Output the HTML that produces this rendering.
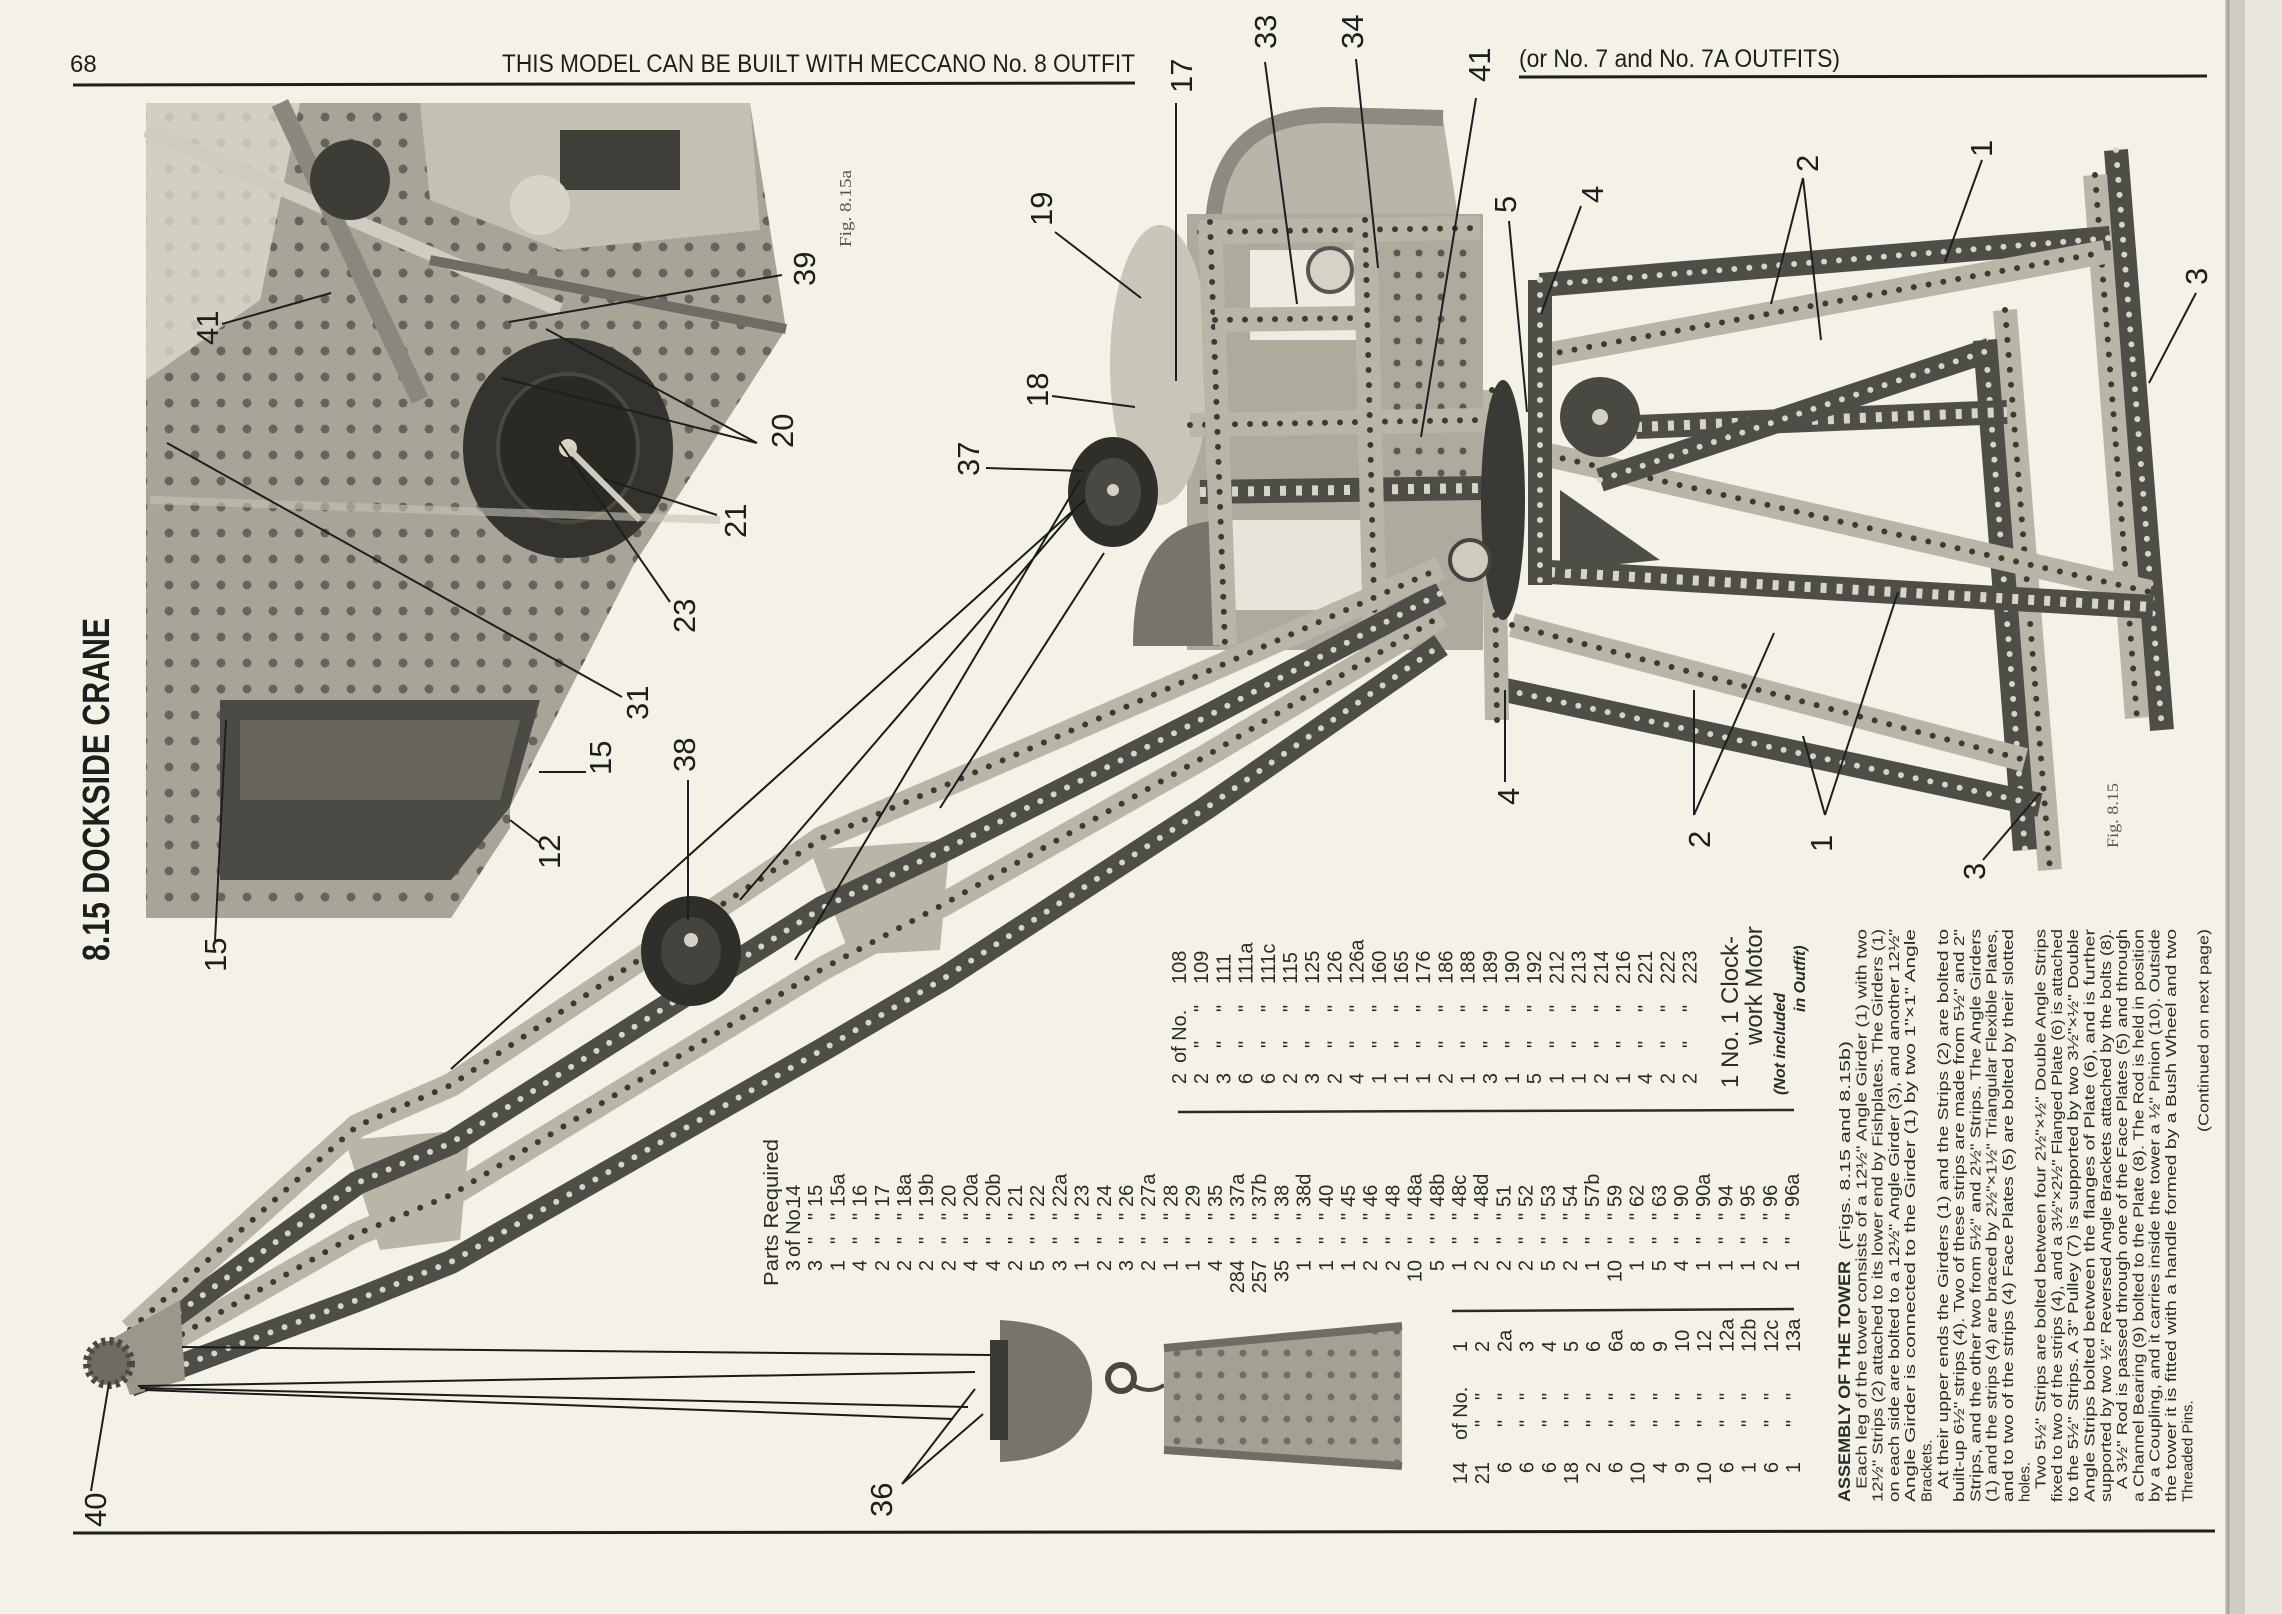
<!DOCTYPE html>
<html><head><meta charset="utf-8"><style>
html,body{margin:0;padding:0;background:#f4f1e7;}
svg{display:block}
.t{font-family:"Liberation Sans",sans-serif;fill:#1e1e1e}
.p{font-family:"Liberation Sans",sans-serif;font-size:20px;fill:#2a2a2a}
.e{text-anchor:end}
.a{font-family:"Liberation Sans",sans-serif;font-size:15px;fill:#2a2a2a}
.lb{font-family:"Liberation Sans",sans-serif;font-size:31px;fill:#1e1e1e}
.ld{stroke:#1e1e1e;stroke-width:2;fill:none}
.gl{fill:none;stroke:#b9b5a7;stroke-width:24;stroke-linejoin:round}
.gd{fill:none;stroke:#4f4d47;stroke-width:24;stroke-linejoin:round}
.hl{fill:none;stroke:#3c3a35;stroke-width:6;stroke-dasharray:0 15;stroke-linecap:round}
.hd{fill:none;stroke:#d8d4c6;stroke-width:6;stroke-dasharray:0 15;stroke-linecap:round}
.cb{stroke:#1a1a1a;stroke-width:2;fill:none}
</style></head><body>
<svg width="2282" height="1614" viewBox="0 0 2282 1614" xmlns="http://www.w3.org/2000/svg">
<defs>
<pattern id="perf" width="26" height="26" patternUnits="userSpaceOnUse"><circle cx="13" cy="13" r="4.5" fill="#4a4842"/></pattern>
<pattern id="perf2" width="22" height="22" patternUnits="userSpaceOnUse"><circle cx="11" cy="11" r="3.5" fill="#5a5850"/></pattern>
</defs>
<rect width="2282" height="1614" fill="#f4f1e7"/>
<rect x="2225" y="0" width="57" height="1614" fill="#e9e7e0"/>
<rect x="2225" y="0" width="20" height="1614" fill="#cfccc2"/>
<line x1="2228" y1="0" x2="2228" y2="1614" stroke="#a9a69c" stroke-width="3"/>

<text class="t" x="70" y="72" font-size="24">68</text>
<text class="t" x="502" y="72" font-size="25" textLength="633" lengthAdjust="spacingAndGlyphs">THIS MODEL CAN BE BUILT WITH MECCANO No. 8 OUTFIT</text>
<text class="t" x="1519" y="67" font-size="25" textLength="321" lengthAdjust="spacingAndGlyphs">(or No. 7 and No. 7A OUTFITS)</text>
<line x1="73" y1="85" x2="1135" y2="83" stroke="#1e1e1e" stroke-width="3"/>
<line x1="1519" y1="77" x2="2207" y2="76" stroke="#1e1e1e" stroke-width="3"/>
<line x1="73" y1="1533" x2="2215" y2="1531" stroke="#1e1e1e" stroke-width="3"/>

<!-- Fig 8.15a photo -->
<polygon points="146,103 750,103 786,329 633,566 510,807 510,828 451,918 146,918" fill="#a8a598"/>
<polygon points="146,103 750,103 786,329 633,566 510,807 510,828 451,918 146,918" fill="url(#perf)" opacity="0.7"/>
<polygon points="146,103 300,103 260,300 146,380" fill="#ddd9cc" opacity="0.8"/>
<polygon points="420,103 750,103 760,230 560,250 430,200" fill="#c4c0b2"/>
<rect x="560" y="130" width="120" height="60" fill="#3f3d38"/>
<polygon points="220,700 540,700 510,807 451,880 220,880" fill="#4c4a44"/>
<polygon points="240,720 520,720 500,800 240,800" fill="#67645c"/>
<ellipse cx="568" cy="448" rx="105" ry="110" fill="#35332f"/>
<ellipse cx="568" cy="448" rx="70" ry="74" fill="#2a2926" stroke="#4a4843" stroke-width="4"/>
<circle cx="568" cy="448" r="9" fill="#d9d5c8"/>
<line x1="568" y1="448" x2="640" y2="520" stroke="#cfcbbd" stroke-width="6"/>
<line x1="146" y1="130" x2="560" y2="310" stroke="#d0ccbf" stroke-width="14"/>
<line x1="280" y1="103" x2="420" y2="400" stroke="#8a877c" stroke-width="18"/>
<line x1="430" y1="260" x2="786" y2="329" stroke="#6f6c63" stroke-width="10"/>
<line x1="150" y1="500" x2="720" y2="520" stroke="#c7c3b5" stroke-width="8" opacity="0.6"/>
<circle cx="350" cy="180" r="40" fill="#3e3c37"/>
<circle cx="540" cy="205" r="30" fill="#d8d4c6"/>

<text class="t" transform="translate(109,961) rotate(-90)" font-size="38" font-weight="bold" textLength="343" lengthAdjust="spacingAndGlyphs">8.15  DOCKSIDE CRANE</text>
<text transform="translate(851,247) rotate(-90)" font-family="Liberation Serif,serif" font-size="17" fill="#555" textLength="77" lengthAdjust="spacingAndGlyphs">Fig. 8.15a</text>
<text transform="translate(2118,848) rotate(-90)" font-family="Liberation Serif,serif" font-size="16" fill="#555" textLength="65" lengthAdjust="spacingAndGlyphs">Fig. 8.15</text>

<!-- tower -->
<g>
<path class="gd" d="M2116,150 L2162,730"/><path class="hd" d="M2116,150 L2162,730"/>
<path class="gl" d="M2095,175 L2137,718"/><path class="hl" d="M2095,175 L2137,718"/>
<path class="gl" d="M2005,310 L2050,870"/><path class="hl" d="M2005,310 L2050,870"/>
<path class="gd" d="M1985,340 L2025,850"/><path class="hd" d="M1985,340 L2025,850"/>
<path class="gd" d="M1540,285 L2110,238"/><path class="hd" d="M1540,285 L2110,238"/>
<path class="gl" d="M1545,355 L2105,252"/><path class="hl" d="M1545,355 L2105,252"/>
<path class="gd" d="M1636,427 L2007,412"/><path class="hd" d="M1636,427 L2007,412" style="stroke-dasharray:6 10;stroke-linecap:butt;stroke-width:10"/>
<path class="gl" d="M1548,455 L2150,592"/><path class="hl" d="M1548,455 L2150,592"/>
<path class="gd" d="M1600,480 L1990,350"/><path class="hd" d="M1600,480 L1990,350"/>
<path class="gd" d="M1549,572 L2153,607"/><path class="hd" d="M1549,572 L2153,607" style="stroke-dasharray:6 10;stroke-linecap:butt;stroke-width:10"/>
<path class="gl" d="M1512,625 L2025,760"/><path class="hl" d="M1512,625 L2025,760"/>
<path class="gd" d="M1505,690 L2040,805"/><path class="hd" d="M1505,690 L2040,805"/>
<path class="gd" d="M1540,280 L1540,585"/><path class="hd" d="M1540,280 L1540,585"/>
<path class="gl" d="M1492,390 L1497,720"/><path class="hl" d="M1492,390 L1497,720"/>
<polygon points="1560,490 1660,560 1560,570" fill="#4f4d47"/>
<circle cx="1600" cy="417" r="40" fill="#4a4842"/>
<circle cx="1600" cy="417" r="8" fill="#d4d0c3"/>
</g>

<!-- cab -->
<g>
<path d="M1213,231 Q1215,115 1330,115 L1443,118 L1460,231 Z" fill="#b9b5a8"/>
<path d="M1213,231 Q1215,115 1330,115 L1443,118" fill="none" stroke="#8d8a80" stroke-width="16"/>
<rect x="1187" y="214" width="296" height="436" fill="#aeaa9d"/>
<rect x="1360" y="230" width="120" height="260" fill="url(#perf2)"/>
<ellipse cx="1160" cy="365" rx="50" ry="140" fill="#c9c5b8"/>
<path d="M1133,646 Q1133,521 1220,521 L1220,646 Z" fill="#77746b"/>
<rect x="1250" y="250" width="110" height="90" fill="#eeebe2"/>
<rect x="1230" y="520" width="150" height="90" fill="#e7e4da"/>
<path class="gl" d="M1190,425 L1483,420"/><path class="hl" d="M1190,425 L1483,420"/>
<path class="gd" d="M1200,492 L1483,488"/><path class="hd" d="M1200,492 L1483,488" style="stroke-dasharray:6 10;stroke-linecap:butt;stroke-width:10"/>
<path class="gl" d="M1200,232 L1480,228"/><path class="hl" d="M1200,232 L1480,228"/>
<path class="gl" d="M1210,222 L1225,645"/><path class="hl" d="M1210,222 L1225,645"/>
<path class="gl" d="M1365,220 L1375,640"/><path class="hl" d="M1365,220 L1375,640"/>
<path class="gl" d="M1215,320 L1360,318"/><path class="hl" d="M1215,320 L1360,318"/>
<circle cx="1330" cy="270" r="22" fill="#d6d2c5" stroke="#555" stroke-width="4"/>
<ellipse cx="1503" cy="500" rx="22" ry="120" fill="#3a3935"/>
<circle cx="1470" cy="560" r="20" fill="#cfcbbd" stroke="#444" stroke-width="4"/>
</g>

<!-- jib -->
<g>
<polygon points="345,1140 470,1130 460,1240 380,1250" fill="#b9b5a7"/>
<polygon points="810,850 950,840 940,950 850,955" fill="#b9b5a7"/>
<path class="gd" d="M130,1385 L357,1300 L451,1262 L822,1050 L946,977 L1206,808 L1441,645"/>
<path class="hd" d="M130,1385 L357,1300 L451,1262 L822,1050 L946,977 L1206,808 L1441,645"/>
<path class="gl" d="M130,1364 L357,1234 L451,1195 L822,969 L946,903 L1206,756 L1441,616"/>
<path class="hl" d="M130,1364 L357,1234 L451,1195 L822,969 L946,903 L1206,756 L1441,616"/>
<path class="gd" d="M130,1348 L357,1183 L451,1143 L822,908 L946,849 L1206,717 L1441,593"/>
<path class="hd" d="M130,1348 L357,1183 L451,1143 L822,908 L946,849 L1206,717 L1441,593"/>
<path class="gl" d="M130,1330 L357,1126 L451,1085 L822,838 L946,785 L1206,672 L1441,568"/>
<path class="hl" d="M130,1330 L357,1126 L451,1085 L822,838 L946,785 L1206,672 L1441,568"/>
<polygon points="110,1340 180,1300 185,1380 130,1395" fill="#9b978a"/>
<circle cx="109" cy="1363" r="22" fill="#6e6b62" stroke="#4a4842" stroke-width="8" stroke-dasharray="4 4"/>
</g>

<ellipse cx="691" cy="951" rx="50" ry="55" fill="#2f2e2b"/>
<ellipse cx="691" cy="951" rx="30" ry="34" fill="#454340"/>
<circle cx="691" cy="940" r="7" fill="#d5d1c4"/>
<ellipse cx="1113" cy="492" rx="45" ry="55" fill="#2f2e2b"/>
<ellipse cx="1113" cy="492" rx="28" ry="34" fill="#4a4843"/>
<circle cx="1113" cy="490" r="6" fill="#d5d1c4"/>

<line class="cb" x1="182" y1="1347" x2="990" y2="1355"/>
<line class="cb" x1="138" y1="1386" x2="975" y2="1372"/>
<line class="cb" x1="140" y1="1388" x2="968" y2="1407"/>
<line class="cb" x1="145" y1="1390" x2="953" y2="1419"/>
<line class="cb" x1="451" y1="1069" x2="1085" y2="500"/>
<line class="cb" x1="795" y1="960" x2="1080" y2="480"/>
<line class="cb" x1="740" y1="900" x2="1075" y2="510"/>
<line class="cb" x1="940" y1="808" x2="1104" y2="553"/>

<path d="M1000,1320 Q1095,1325 1092,1390 Q1090,1458 1000,1462 Z" fill="#77746a"/>
<rect x="990" y="1340" width="18" height="100" fill="#3c3a36"/>
<circle cx="1121" cy="1378" r="13" fill="none" stroke="#4a4843" stroke-width="6"/>
<path d="M1133,1385 Q1150,1395 1164,1385" fill="none" stroke="#4a4843" stroke-width="4"/>
<polygon points="1164,1346 1402,1323 1402,1468 1164,1452" fill="#a4a194"/>
<polygon points="1164,1346 1402,1323 1402,1468 1164,1452" fill="url(#perf2)" opacity="0.7"/>
<line x1="1164" y1="1348" x2="1402" y2="1326" stroke="#6f6c63" stroke-width="8"/>
<line x1="1164" y1="1450" x2="1402" y2="1466" stroke="#6f6c63" stroke-width="8"/>

<g class="lb">
<text transform="translate(218,345) rotate(-90)">41</text>
<text transform="translate(815,286) rotate(-90)">39</text>
<text transform="translate(793,448) rotate(-90)">20</text>
<text transform="translate(746,538) rotate(-90)">21</text>
<text transform="translate(695,633) rotate(-90)">23</text>
<text transform="translate(648,720) rotate(-90)">31</text>
<text transform="translate(611,775) rotate(-90)">15</text>
<text transform="translate(695,772) rotate(-90)">38</text>
<text transform="translate(560,869) rotate(-90)">12</text>
<text transform="translate(226,972) rotate(-90)">15</text>
<text transform="translate(1052,226) rotate(-90)">19</text>
<text transform="translate(1048,407) rotate(-90)">18</text>
<text transform="translate(979,476) rotate(-90)">37</text>
<text transform="translate(106,1527) rotate(-90)">40</text>
<text transform="translate(892,1517) rotate(-90)">36</text>
<text transform="translate(1192,93) rotate(-90)">17</text>
<text transform="translate(1276,49) rotate(-90)">33</text>
<text transform="translate(1363,49) rotate(-90)">34</text>
<text transform="translate(1490,82) rotate(-90)">41</text>
<text transform="translate(1516,213) rotate(-90)">5</text>
<text transform="translate(1603,203) rotate(-90)">4</text>
<text transform="translate(1818,172) rotate(-90)">2</text>
<text transform="translate(1992,157) rotate(-90)">1</text>
<text transform="translate(2207,285) rotate(-90)">3</text>
<text transform="translate(1519,805) rotate(-90)">4</text>
<text transform="translate(1710,848) rotate(-90)">2</text>
<text transform="translate(1832,852) rotate(-90)">1</text>
<text transform="translate(1985,880) rotate(-90)">3</text>
</g>
<g class="ld">
<path d="M222,324 L331,293"/>
<path d="M782,275 L509,322"/>
<path d="M757,443 L546,329 M757,443 L502,378"/>
<path d="M717,515 L604,479"/>
<path d="M670,602 L560,443"/>
<path d="M622,697 L167,443"/>
<path d="M586,772 L539,772"/>
<path d="M688,780 L688,920"/>
<path d="M540,843 L510,820"/>
<path d="M215,941 L226,720"/>
<path d="M1055,232 L1141,298"/>
<path d="M1052,396 L1135,407"/>
<path d="M986,468 L1084,471"/>
<path d="M91,1491 L109,1383"/>
<path d="M902,1484 L975,1389 M902,1484 L983,1414"/>
<path d="M1176,103 L1176,381"/>
<path d="M1265,62 L1297,304"/>
<path d="M1356,59 L1378,268"/>
<path d="M1476,98 L1421,437"/>
<path d="M1509,221 L1527,412"/>
<path d="M1581,206 L1541,314"/>
<path d="M1803,178 L1771,304 M1803,178 L1821,340"/>
<path d="M1982,160 L1945,262"/>
<path d="M2196,293 L2149,383"/>
<path d="M1505,782 L1505,690"/>
<path d="M1694,815 L1694,690 M1694,815 L1774,633"/>
<path d="M1825,815 L1803,736 M1825,815 L1898,592"/>
<path d="M1983,860 L2040,793"/>
</g>

<line x1="1178" y1="1112" x2="1794" y2="1110" stroke="#2a2a2a" stroke-width="2.5"/>
<line x1="1452" y1="1311" x2="1794" y2="1309" stroke="#2a2a2a" stroke-width="2.5"/>

<text class="p" transform="translate(778,0) rotate(-90)" x="-1286" textLength="147" lengthAdjust="spacingAndGlyphs">Parts Required</text>
<g class="p">
<g transform="translate(800,0) rotate(-90)"><text class="e" x="-1260">3</text><text x="-1257">of No.</text><text x="-1207">14</text></g>
<g transform="translate(822.2,0) rotate(-90)"><text class="e" x="-1260">3</text><text x="-1244">"</text><text x="-1220">"</text><text x="-1207">15</text></g>
<g transform="translate(844.4,0) rotate(-90)"><text class="e" x="-1260">1</text><text x="-1244">"</text><text x="-1220">"</text><text x="-1207">15a</text></g>
<g transform="translate(866.6,0) rotate(-90)"><text class="e" x="-1260">4</text><text x="-1244">"</text><text x="-1220">"</text><text x="-1207">16</text></g>
<g transform="translate(888.8,0) rotate(-90)"><text class="e" x="-1260">2</text><text x="-1244">"</text><text x="-1220">"</text><text x="-1207">17</text></g>
<g transform="translate(911,0) rotate(-90)"><text class="e" x="-1260">2</text><text x="-1244">"</text><text x="-1220">"</text><text x="-1207">18a</text></g>
<g transform="translate(933.2,0) rotate(-90)"><text class="e" x="-1260">2</text><text x="-1244">"</text><text x="-1220">"</text><text x="-1207">19b</text></g>
<g transform="translate(955.4,0) rotate(-90)"><text class="e" x="-1260">2</text><text x="-1244">"</text><text x="-1220">"</text><text x="-1207">20</text></g>
<g transform="translate(977.6,0) rotate(-90)"><text class="e" x="-1260">4</text><text x="-1244">"</text><text x="-1220">"</text><text x="-1207">20a</text></g>
<g transform="translate(999.8,0) rotate(-90)"><text class="e" x="-1260">4</text><text x="-1244">"</text><text x="-1220">"</text><text x="-1207">20b</text></g>
<g transform="translate(1022,0) rotate(-90)"><text class="e" x="-1260">2</text><text x="-1244">"</text><text x="-1220">"</text><text x="-1207">21</text></g>
<g transform="translate(1044.2,0) rotate(-90)"><text class="e" x="-1260">5</text><text x="-1244">"</text><text x="-1220">"</text><text x="-1207">22</text></g>
<g transform="translate(1066.4,0) rotate(-90)"><text class="e" x="-1260">3</text><text x="-1244">"</text><text x="-1220">"</text><text x="-1207">22a</text></g>
<g transform="translate(1088.6,0) rotate(-90)"><text class="e" x="-1260">1</text><text x="-1244">"</text><text x="-1220">"</text><text x="-1207">23</text></g>
<g transform="translate(1110.8,0) rotate(-90)"><text class="e" x="-1260">2</text><text x="-1244">"</text><text x="-1220">"</text><text x="-1207">24</text></g>
<g transform="translate(1133,0) rotate(-90)"><text class="e" x="-1260">3</text><text x="-1244">"</text><text x="-1220">"</text><text x="-1207">26</text></g>
<g transform="translate(1155.2,0) rotate(-90)"><text class="e" x="-1260">2</text><text x="-1244">"</text><text x="-1220">"</text><text x="-1207">27a</text></g>
<g transform="translate(1177.4,0) rotate(-90)"><text class="e" x="-1260">1</text><text x="-1244">"</text><text x="-1220">"</text><text x="-1207">28</text></g>
<g transform="translate(1199.6,0) rotate(-90)"><text class="e" x="-1260">1</text><text x="-1244">"</text><text x="-1220">"</text><text x="-1207">29</text></g>
<g transform="translate(1221.8,0) rotate(-90)"><text class="e" x="-1260">4</text><text x="-1244">"</text><text x="-1220">"</text><text x="-1207">35</text></g>
<g transform="translate(1244,0) rotate(-90)"><text class="e" x="-1260">284</text><text x="-1244">"</text><text x="-1220">"</text><text x="-1207">37a</text></g>
<g transform="translate(1266.2,0) rotate(-90)"><text class="e" x="-1260">257</text><text x="-1244">"</text><text x="-1220">"</text><text x="-1207">37b</text></g>
<g transform="translate(1288.4,0) rotate(-90)"><text class="e" x="-1260">35</text><text x="-1244">"</text><text x="-1220">"</text><text x="-1207">38</text></g>
<g transform="translate(1310.6,0) rotate(-90)"><text class="e" x="-1260">1</text><text x="-1244">"</text><text x="-1220">"</text><text x="-1207">38d</text></g>
<g transform="translate(1332.8,0) rotate(-90)"><text class="e" x="-1260">1</text><text x="-1244">"</text><text x="-1220">"</text><text x="-1207">40</text></g>
<g transform="translate(1355,0) rotate(-90)"><text class="e" x="-1260">1</text><text x="-1244">"</text><text x="-1220">"</text><text x="-1207">45</text></g>
<g transform="translate(1377.2,0) rotate(-90)"><text class="e" x="-1260">2</text><text x="-1244">"</text><text x="-1220">"</text><text x="-1207">46</text></g>
<g transform="translate(1399.4,0) rotate(-90)"><text class="e" x="-1260">2</text><text x="-1244">"</text><text x="-1220">"</text><text x="-1207">48</text></g>
<g transform="translate(1421.6,0) rotate(-90)"><text class="e" x="-1260">10</text><text x="-1244">"</text><text x="-1220">"</text><text x="-1207">48a</text></g>
<g transform="translate(1443.8,0) rotate(-90)"><text class="e" x="-1260">5</text><text x="-1244">"</text><text x="-1220">"</text><text x="-1207">48b</text></g>
<g transform="translate(1466,0) rotate(-90)"><text class="e" x="-1260">1</text><text x="-1244">"</text><text x="-1220">"</text><text x="-1207">48c</text></g>
<g transform="translate(1488.2,0) rotate(-90)"><text class="e" x="-1260">2</text><text x="-1244">"</text><text x="-1220">"</text><text x="-1207">48d</text></g>
<g transform="translate(1510.4,0) rotate(-90)"><text class="e" x="-1260">2</text><text x="-1244">"</text><text x="-1220">"</text><text x="-1207">51</text></g>
<g transform="translate(1532.6,0) rotate(-90)"><text class="e" x="-1260">2</text><text x="-1244">"</text><text x="-1220">"</text><text x="-1207">52</text></g>
<g transform="translate(1554.8,0) rotate(-90)"><text class="e" x="-1260">5</text><text x="-1244">"</text><text x="-1220">"</text><text x="-1207">53</text></g>
<g transform="translate(1577,0) rotate(-90)"><text class="e" x="-1260">2</text><text x="-1244">"</text><text x="-1220">"</text><text x="-1207">54</text></g>
<g transform="translate(1599.2,0) rotate(-90)"><text class="e" x="-1260">1</text><text x="-1244">"</text><text x="-1220">"</text><text x="-1207">57b</text></g>
<g transform="translate(1621.4,0) rotate(-90)"><text class="e" x="-1260">10</text><text x="-1244">"</text><text x="-1220">"</text><text x="-1207">59</text></g>
<g transform="translate(1643.6,0) rotate(-90)"><text class="e" x="-1260">1</text><text x="-1244">"</text><text x="-1220">"</text><text x="-1207">62</text></g>
<g transform="translate(1665.8,0) rotate(-90)"><text class="e" x="-1260">5</text><text x="-1244">"</text><text x="-1220">"</text><text x="-1207">63</text></g>
<g transform="translate(1688,0) rotate(-90)"><text class="e" x="-1260">4</text><text x="-1244">"</text><text x="-1220">"</text><text x="-1207">90</text></g>
<g transform="translate(1710.2,0) rotate(-90)"><text class="e" x="-1260">1</text><text x="-1244">"</text><text x="-1220">"</text><text x="-1207">90a</text></g>
<g transform="translate(1732.4,0) rotate(-90)"><text class="e" x="-1260">1</text><text x="-1244">"</text><text x="-1220">"</text><text x="-1207">94</text></g>
<g transform="translate(1754.6,0) rotate(-90)"><text class="e" x="-1260">1</text><text x="-1244">"</text><text x="-1220">"</text><text x="-1207">95</text></g>
<g transform="translate(1776.8,0) rotate(-90)"><text class="e" x="-1260">2</text><text x="-1244">"</text><text x="-1220">"</text><text x="-1207">96</text></g>
<g transform="translate(1799,0) rotate(-90)"><text class="e" x="-1260">1</text><text x="-1244">"</text><text x="-1220">"</text><text x="-1207">96a</text></g>
</g>

<g class="p">
<g transform="translate(1186,0) rotate(-90)"><text class="e" x="-1073">2</text><text x="-1063">of No.</text><text x="-984">108</text></g>
<g transform="translate(1208.2,0) rotate(-90)"><text class="e" x="-1073">2</text><text x="-1048">"</text><text x="-1012">"</text><text x="-984">109</text></g>
<g transform="translate(1230.4,0) rotate(-90)"><text class="e" x="-1073">3</text><text x="-1048">"</text><text x="-1012">"</text><text x="-984">111</text></g>
<g transform="translate(1252.6,0) rotate(-90)"><text class="e" x="-1073">6</text><text x="-1048">"</text><text x="-1012">"</text><text x="-984">111a</text></g>
<g transform="translate(1274.8,0) rotate(-90)"><text class="e" x="-1073">6</text><text x="-1048">"</text><text x="-1012">"</text><text x="-984">111c</text></g>
<g transform="translate(1297,0) rotate(-90)"><text class="e" x="-1073">2</text><text x="-1048">"</text><text x="-1012">"</text><text x="-984">115</text></g>
<g transform="translate(1319.2,0) rotate(-90)"><text class="e" x="-1073">3</text><text x="-1048">"</text><text x="-1012">"</text><text x="-984">125</text></g>
<g transform="translate(1341.4,0) rotate(-90)"><text class="e" x="-1073">2</text><text x="-1048">"</text><text x="-1012">"</text><text x="-984">126</text></g>
<g transform="translate(1363.6,0) rotate(-90)"><text class="e" x="-1073">4</text><text x="-1048">"</text><text x="-1012">"</text><text x="-984">126a</text></g>
<g transform="translate(1385.8,0) rotate(-90)"><text class="e" x="-1073">1</text><text x="-1048">"</text><text x="-1012">"</text><text x="-984">160</text></g>
<g transform="translate(1408,0) rotate(-90)"><text class="e" x="-1073">1</text><text x="-1048">"</text><text x="-1012">"</text><text x="-984">165</text></g>
<g transform="translate(1430.2,0) rotate(-90)"><text class="e" x="-1073">1</text><text x="-1048">"</text><text x="-1012">"</text><text x="-984">176</text></g>
<g transform="translate(1452.4,0) rotate(-90)"><text class="e" x="-1073">2</text><text x="-1048">"</text><text x="-1012">"</text><text x="-984">186</text></g>
<g transform="translate(1474.6,0) rotate(-90)"><text class="e" x="-1073">1</text><text x="-1048">"</text><text x="-1012">"</text><text x="-984">188</text></g>
<g transform="translate(1496.8,0) rotate(-90)"><text class="e" x="-1073">3</text><text x="-1048">"</text><text x="-1012">"</text><text x="-984">189</text></g>
<g transform="translate(1519,0) rotate(-90)"><text class="e" x="-1073">1</text><text x="-1048">"</text><text x="-1012">"</text><text x="-984">190</text></g>
<g transform="translate(1541.2,0) rotate(-90)"><text class="e" x="-1073">5</text><text x="-1048">"</text><text x="-1012">"</text><text x="-984">192</text></g>
<g transform="translate(1563.4,0) rotate(-90)"><text class="e" x="-1073">1</text><text x="-1048">"</text><text x="-1012">"</text><text x="-984">212</text></g>
<g transform="translate(1585.6,0) rotate(-90)"><text class="e" x="-1073">1</text><text x="-1048">"</text><text x="-1012">"</text><text x="-984">213</text></g>
<g transform="translate(1607.8,0) rotate(-90)"><text class="e" x="-1073">2</text><text x="-1048">"</text><text x="-1012">"</text><text x="-984">214</text></g>
<g transform="translate(1630,0) rotate(-90)"><text class="e" x="-1073">1</text><text x="-1048">"</text><text x="-1012">"</text><text x="-984">216</text></g>
<g transform="translate(1652.2,0) rotate(-90)"><text class="e" x="-1073">4</text><text x="-1048">"</text><text x="-1012">"</text><text x="-984">221</text></g>
<g transform="translate(1674.4,0) rotate(-90)"><text class="e" x="-1073">2</text><text x="-1048">"</text><text x="-1012">"</text><text x="-984">222</text></g>
<g transform="translate(1696.6,0) rotate(-90)"><text class="e" x="-1073">2</text><text x="-1048">"</text><text x="-1012">"</text><text x="-984">223</text></g>
<text transform="translate(1738,0) rotate(-90)" x="-1088" font-size="24">1 No. 1 Clock-</text>
<text transform="translate(1762,0) rotate(-90)" x="-1045" font-size="24">work Motor</text>
<text transform="translate(1785,0) rotate(-90)" x="-1095" font-size="16" font-style="italic" font-weight="bold">(Not included</text>
<text transform="translate(1805,0) rotate(-90)" x="-1012" font-size="16" font-style="italic" font-weight="bold">in Outfit)</text>
</g>

<g class="p">
<g transform="translate(1467,0) rotate(-90)"><text class="e" x="-1462">14</text><text x="-1440">of No.</text><text x="-1352">1</text></g>
<g transform="translate(1489.2,0) rotate(-90)"><text class="e" x="-1462">21</text><text x="-1427">"</text><text x="-1400">"</text><text x="-1352">2</text></g>
<g transform="translate(1511.4,0) rotate(-90)"><text class="e" x="-1462">6</text><text x="-1427">"</text><text x="-1400">"</text><text x="-1352">2a</text></g>
<g transform="translate(1533.6,0) rotate(-90)"><text class="e" x="-1462">6</text><text x="-1427">"</text><text x="-1400">"</text><text x="-1352">3</text></g>
<g transform="translate(1555.8,0) rotate(-90)"><text class="e" x="-1462">6</text><text x="-1427">"</text><text x="-1400">"</text><text x="-1352">4</text></g>
<g transform="translate(1578,0) rotate(-90)"><text class="e" x="-1462">18</text><text x="-1427">"</text><text x="-1400">"</text><text x="-1352">5</text></g>
<g transform="translate(1600.2,0) rotate(-90)"><text class="e" x="-1462">2</text><text x="-1427">"</text><text x="-1400">"</text><text x="-1352">6</text></g>
<g transform="translate(1622.4,0) rotate(-90)"><text class="e" x="-1462">6</text><text x="-1427">"</text><text x="-1400">"</text><text x="-1352">6a</text></g>
<g transform="translate(1644.6,0) rotate(-90)"><text class="e" x="-1462">10</text><text x="-1427">"</text><text x="-1400">"</text><text x="-1352">8</text></g>
<g transform="translate(1666.8,0) rotate(-90)"><text class="e" x="-1462">4</text><text x="-1427">"</text><text x="-1400">"</text><text x="-1352">9</text></g>
<g transform="translate(1689,0) rotate(-90)"><text class="e" x="-1462">9</text><text x="-1427">"</text><text x="-1400">"</text><text x="-1352">10</text></g>
<g transform="translate(1711.2,0) rotate(-90)"><text class="e" x="-1462">10</text><text x="-1427">"</text><text x="-1400">"</text><text x="-1352">12</text></g>
<g transform="translate(1733.4,0) rotate(-90)"><text class="e" x="-1462">6</text><text x="-1427">"</text><text x="-1400">"</text><text x="-1352">12a</text></g>
<g transform="translate(1755.6,0) rotate(-90)"><text class="e" x="-1462">1</text><text x="-1427">"</text><text x="-1400">"</text><text x="-1352">12b</text></g>
<g transform="translate(1777.8,0) rotate(-90)"><text class="e" x="-1462">6</text><text x="-1427">"</text><text x="-1400">"</text><text x="-1352">12c</text></g>
<g transform="translate(1800,0) rotate(-90)"><text class="e" x="-1462">1</text><text x="-1427">"</text><text x="-1400">"</text><text x="-1352">13a</text></g>
</g>

<g class="a">
<text transform="translate(1850,0) rotate(-90)" x="-1502" font-weight="bold" font-size="17" textLength="241" lengthAdjust="spacingAndGlyphs">ASSEMBLY OF THE TOWER</text>
<text transform="translate(1850,0) rotate(-90)" x="-1250" textLength="209" lengthAdjust="spacingAndGlyphs">(Figs. 8.15 and 8.15b)</text>
<text transform="translate(1866.3,0) rotate(-90)" x="-1489" textLength="560" lengthAdjust="spacingAndGlyphs">Each leg of the tower consists of a 12½" Angle Girder (1) with two</text>
<text transform="translate(1882.6,0) rotate(-90)" x="-1502" textLength="573" lengthAdjust="spacingAndGlyphs">12½" Strips (2) attached to its lower end by Fishplates. The Girders (1)</text>
<text transform="translate(1898.9,0) rotate(-90)" x="-1502" textLength="573" lengthAdjust="spacingAndGlyphs">on each side are bolted to a 12½" Angle Girder (3), and another 12½"</text>
<text transform="translate(1915.2,0) rotate(-90)" x="-1502" textLength="573" lengthAdjust="spacingAndGlyphs">Angle Girder is connected to the Girder (1) by two 1"×1" Angle</text>
<text transform="translate(1931.5,0) rotate(-90)" x="-1502">Brackets.</text>
<text transform="translate(1947.8,0) rotate(-90)" x="-1489" textLength="560" lengthAdjust="spacingAndGlyphs">At their upper ends the Girders (1) and the Strips (2) are bolted to</text>
<text transform="translate(1964.1,0) rotate(-90)" x="-1502" textLength="573" lengthAdjust="spacingAndGlyphs">built-up 6½" strips (4). Two of these strips are made from 5½" and 2"</text>
<text transform="translate(1980.4,0) rotate(-90)" x="-1502" textLength="573" lengthAdjust="spacingAndGlyphs">Strips, and the other two from 5½" and 2½" Strips. The Angle Girders</text>
<text transform="translate(1996.7,0) rotate(-90)" x="-1502" textLength="573" lengthAdjust="spacingAndGlyphs">(1) and the strips (4) are braced by 2½"×1½" Triangular Flexible Plates,</text>
<text transform="translate(2013,0) rotate(-90)" x="-1502" textLength="573" lengthAdjust="spacingAndGlyphs">and to two of the strips (4) Face Plates (5) are bolted by their slotted</text>
<text transform="translate(2029.3,0) rotate(-90)" x="-1502">holes.</text>
<text transform="translate(2045.6,0) rotate(-90)" x="-1489" textLength="560" lengthAdjust="spacingAndGlyphs">Two 5½" Strips are bolted between four 2½"×½" Double Angle Strips</text>
<text transform="translate(2061.9,0) rotate(-90)" x="-1502" textLength="573" lengthAdjust="spacingAndGlyphs">fixed to two of the strips (4), and a 3½"×2½" Flanged Plate (6) is attached</text>
<text transform="translate(2078.2,0) rotate(-90)" x="-1502" textLength="573" lengthAdjust="spacingAndGlyphs">to the 5½" Strips. A 3" Pulley (7) is supported by two 3½"×½" Double</text>
<text transform="translate(2094.5,0) rotate(-90)" x="-1502" textLength="573" lengthAdjust="spacingAndGlyphs">Angle Strips bolted between the flanges of Plate (6), and is further</text>
<text transform="translate(2110.8,0) rotate(-90)" x="-1502" textLength="573" lengthAdjust="spacingAndGlyphs">supported by two ½" Reversed Angle Brackets attached by the bolts (8).</text>
<text transform="translate(2127.1,0) rotate(-90)" x="-1489" textLength="560" lengthAdjust="spacingAndGlyphs">A 3½" Rod is passed through one of the Face Plates (5) and through</text>
<text transform="translate(2143.4,0) rotate(-90)" x="-1502" textLength="573" lengthAdjust="spacingAndGlyphs">a Channel Bearing (9) bolted to the Plate (8). The Rod is held in position</text>
<text transform="translate(2159.7,0) rotate(-90)" x="-1502" textLength="573" lengthAdjust="spacingAndGlyphs">by a Coupling, and it carries inside the tower a ½" Pinion (10). Outside</text>
<text transform="translate(2176,0) rotate(-90)" x="-1502" textLength="573" lengthAdjust="spacingAndGlyphs">the tower it is fitted with a handle formed by a Bush Wheel and two</text>
<text transform="translate(2192.3,0) rotate(-90)" x="-1502">Threaded Pins.</text>
<text transform="translate(2208.6,0) rotate(-90)" x="-929" text-anchor="end" textLength="203" lengthAdjust="spacingAndGlyphs">(Continued on next page)</text>
</g>
</svg>
</body></html>
